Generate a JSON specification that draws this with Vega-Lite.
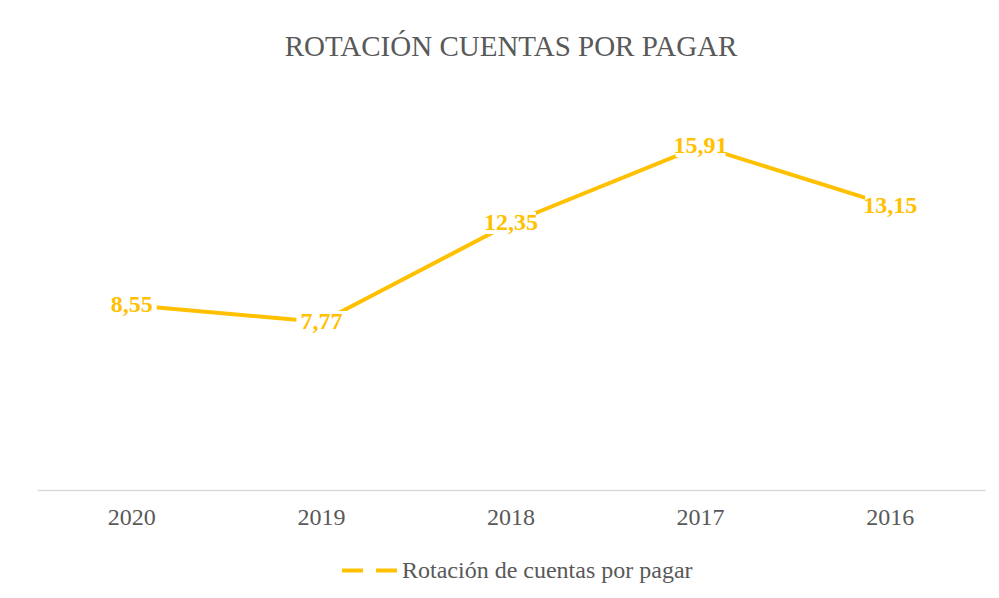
{
  "$schema": "https://vega.github.io/schema/vega-lite/v6.json",
  "autosize": {"type": "none"},
  "padding": {"left": 37, "top": 103, "right": 14, "bottom": 108},
  "width": 948,
  "height": 387,
  "background": "white",
  "title": {
    "text": "ROTACIÓN CUENTAS POR PAGAR",
    "font": "Liberation Serif",
    "fontSize": 29,
    "fontWeight": "normal",
    "color": "#595959",
    "anchor": "middle",
    "baseline": "alphabetic",
    "offset": 18
  },
  "data": {
    "values": [
      {"anio": "2020", "valor": 8.55, "etiqueta": "8,55", "serie": "Rotación de cuentas por pagar"},
      {"anio": "2019", "valor": 7.77, "etiqueta": "7,77", "serie": "Rotación de cuentas por pagar"},
      {"anio": "2018", "valor": 12.35, "etiqueta": "12,35", "serie": "Rotación de cuentas por pagar"},
      {"anio": "2017", "valor": 15.91, "etiqueta": "15,91", "serie": "Rotación de cuentas por pagar"},
      {"anio": "2016", "valor": 13.15, "etiqueta": "13,15", "serie": "Rotación de cuentas por pagar"}
    ]
  },
  "encoding": {
    "x": {
      "field": "anio",
      "type": "nominal",
      "sort": null,
      "scale": {"type": "band", "paddingInner": 0, "paddingOuter": 0},
      "axis": {
        "title": null,
        "labelAngle": 0,
        "ticks": false,
        "labelFont": "Liberation Serif",
        "labelFontSize": 24,
        "labelColor": "#595959",
        "labelPadding": 15,
        "domainColor": "#D9D9D9",
        "domainWidth": 1.5,
        "grid": false
      }
    },
    "y": {
      "field": "valor",
      "type": "quantitative",
      "scale": {"domain": [0, 17.9]},
      "axis": null
    }
  },
  "layer": [
    {
      "mark": {"type": "line", "strokeWidth": 4, "strokeCap": "butt"},
      "encoding": {
        "color": {
          "field": "serie",
          "type": "nominal",
          "scale": {"range": ["#FFC000"]},
          "legend": {
            "title": null,
            "orient": "none",
            "legendX": 303,
            "legendY": 438,
            "symbolType": "stroke",
            "symbolSize": 3025,
            "symbolStrokeWidth": 4,
            "symbolDash": [21, 13],
            "symbolOffset": 0,
            "labelOffset": 3,
            "labelFont": "Liberation Serif",
            "labelFontSize": 24,
            "labelColor": "#595959",
            "labelLimit": 400
          }
        }
      }
    },
    {
      "mark": {
        "type": "point",
        "shape": "M-1,-0.44L1,-0.44L1,0.44L-1,0.44Z",
        "filled": true,
        "color": "white",
        "opacity": 1,
        "size": 2500,
        "strokeWidth": 0
      }
    },
    {
      "mark": {
        "type": "text",
        "font": "Liberation Serif",
        "fontWeight": "bold",
        "fontSize": 24,
        "color": "#FFC000",
        "baseline": "middle",
        "align": "center",
        "dy": 0
      },
      "encoding": {"text": {"field": "etiqueta"}}
    }
  ],
  "config": {"view": {"stroke": null}}
}
